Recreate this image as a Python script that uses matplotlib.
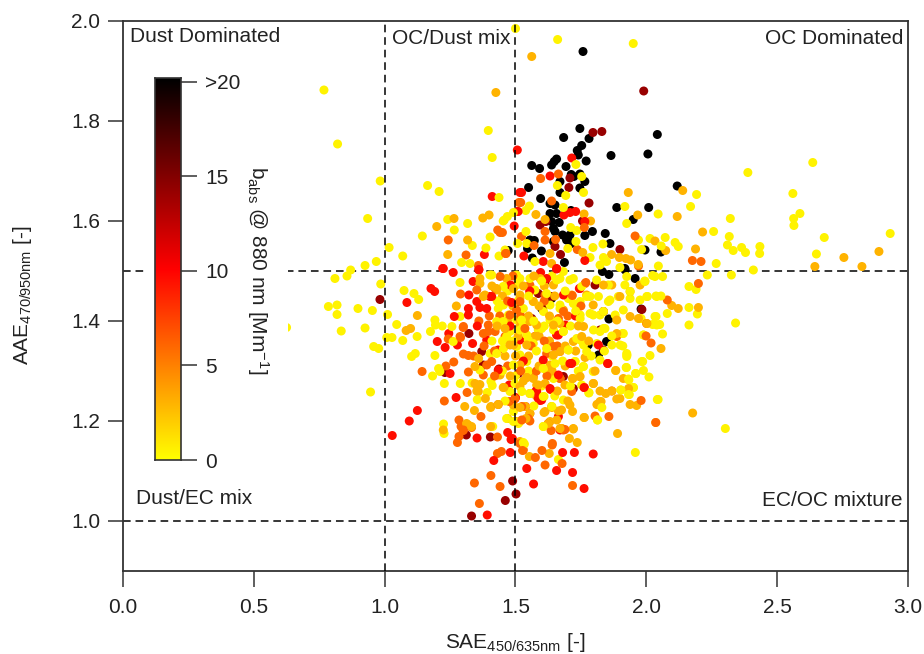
import numpy as np
import matplotlib
matplotlib.use('Agg')
import matplotlib.pyplot as plt
from matplotlib.colors import LinearSegmentedColormap, Normalize
from matplotlib.patches import Rectangle

# SAE, AAE, grouped by colour class of b_abs
black_pts = np.array([
    (1.758,1.939),(1.684,1.767),(1.781,1.765),(1.753,1.751),(2.042,1.773),(1.736,1.741),(1.74,1.732),(1.865,1.731),
    (2.006,1.734),(1.657,1.724),(1.648,1.719),(1.638,1.712),(1.77,1.72),(1.562,1.711),(1.592,1.705),(1.693,1.709),
    (1.746,1.694),(1.713,1.693),(1.723,1.689),(1.765,1.679),(1.67,1.679),(1.746,1.666),(1.55,1.667),(2.118,1.67),
    (1.67,1.657),(1.596,1.645),(1.651,1.632),(1.632,1.635),(1.887,1.627),(2.009,1.627),(1.632,1.615),(1.657,1.615),
    (1.712,1.621),(1.95,1.603),(1.638,1.599),(1.667,1.597),(1.645,1.585),(1.651,1.579),(1.794,1.579),(1.843,1.575),
    (1.68,1.572),(1.708,1.572),(1.555,1.562),(1.572,1.561),(1.645,1.559),(1.714,1.555),(1.861,1.555),(1.546,1.545),
    (1.599,1.54),(1.995,1.542),(2.056,1.538),(1.472,1.541),(1.564,1.526),(1.687,1.517),(1.918,1.505),(1.919,1.502),
    (1.957,1.485),(1.857,1.493),(1.832,1.499),(1.98,1.424),(1.857,1.404),(1.536,1.404),(1.498,1.435),(1.638,1.445),
    (1.848,1.359),(1.778,1.352),(1.817,1.332),(1.6,1.425),(1.746,1.785),(1.765,1.571),(1.695,1.562),
])
dark_pts = np.array([
    (1.99,1.86),(1.796,1.777),(1.83,1.779),(1.781,1.636),(1.594,1.592),(1.899,1.543),(1.672,1.533),(1.704,1.667),
    (1.708,1.686),(1.616,1.599),(1.651,1.549),(1.756,1.6),(0.982,1.443),(1.332,1.01),(1.461,1.041),(1.502,1.054),
    (1.489,1.08),(1.404,1.168),(1.312,1.172),(1.371,1.339),(1.322,1.375),(1.437,1.304),(1.377,1.312),(1.543,1.404),
    (1.23,1.297),(1.804,1.472),(1.562,1.405),(1.721,1.265),(1.587,1.455),(1.683,1.289),(1.836,1.342),(1.836,1.419),
    (1.511,1.295),(1.823,1.382),(1.613,1.479),(1.639,1.449),(1.604,1.425),(1.983,1.423),
])
red_pts = np.array([
    (1.507,1.742),(1.411,1.649),(1.381,1.533),(1.222,1.505),(1.36,1.503),(1.517,1.657),(1.507,1.619),(1.495,1.59),
    (1.715,1.726),(1.632,1.69),(1.523,1.657),(1.51,1.619),(1.685,1.612),(1.708,1.617),(1.73,1.619),(1.765,1.599),
    (1.606,1.519),(1.765,1.521),(1.657,1.505),(1.532,1.53),(1.224,1.505),(1.177,1.465),(1.191,1.459),(1.085,1.437),
    (1.262,1.497),(1.338,1.479),(1.322,1.452),(1.352,1.439),(1.364,1.427),(1.39,1.425),(1.32,1.425),(1.266,1.409),
    (1.32,1.412),(1.201,1.359),(1.231,1.347),(1.245,1.375),(1.278,1.352),(1.336,1.355),(1.354,1.39),(1.25,1.295),
    (1.434,1.342),(1.273,1.247),(1.125,1.221),(1.094,1.2),(1.029,1.171),(1.353,1.166),(1.47,1.177),(1.483,1.163),
    (1.48,1.137),(1.417,1.121),(1.543,1.105),(1.392,1.012),(1.529,1.319),(1.476,1.272),(1.5,1.247),(1.36,1.502),
    (1.402,1.449),(1.479,1.39),(1.797,1.134),(1.725,1.137),(1.68,1.137),(1.657,1.101),(1.718,1.097),(1.569,1.074),
    (1.762,1.065),(1.488,1.165),(1.852,1.315),(1.817,1.352),(1.747,1.465),(1.683,1.452),(1.729,1.41),(1.53,1.32),
    (1.606,1.322),(1.664,1.209),(1.581,1.259),(1.594,1.241),(1.634,1.263),(1.555,1.459),(1.619,1.485),(1.517,1.362),
    (1.657,1.372),(1.708,1.315),(1.762,1.267),(1.596,1.497),(1.657,1.504),(1.498,1.245),(1.481,1.472),(1.555,1.46),
    (1.409,1.449),(1.485,1.437),(1.39,1.362),(1.744,1.465),(1.69,1.392),(1.664,1.372),(1.578,1.26),(1.587,1.245),
    (1.434,1.302),(1.853,1.315),(1.715,1.315),(1.763,1.267),(1.664,1.292),(1.632,1.265),(1.6,1.242),(1.67,1.182),
])
orange_pts = np.array([
    (1.432,1.582),(1.45,1.577),(1.311,1.532),(1.462,1.535),(1.358,1.511),(1.513,1.637),(1.243,1.562),(1.596,1.685),
    (1.664,1.694),(1.52,1.637),(1.957,1.57),(2.176,1.521),(2.209,1.519),(1.763,1.587),(1.613,1.579),(1.523,1.569),
    (1.736,1.543),(1.613,1.562),(1.653,1.563),(1.571,1.551),(1.464,1.535),(1.441,1.577),(1.638,1.64),(1.29,1.454),
    (1.143,1.299),(1.234,1.31),(1.264,1.318),(1.32,1.298),(1.301,1.334),(1.32,1.331),(1.228,1.24),(1.315,1.257),
    (1.368,1.209),(1.284,1.202),(1.292,1.189),(1.332,1.187),(1.3,1.181),(1.278,1.157),(1.284,1.169),(1.431,1.168),
    (1.343,1.076),(1.406,1.091),(1.362,1.035),(1.441,1.069),(1.431,1.135),(1.446,1.139),(1.53,1.142),(1.517,1.155),
    (1.3,1.387),(1.29,1.367),(1.243,1.364),(1.396,1.392),(1.377,1.375),(1.422,1.379),(1.409,1.319),(1.39,1.312),
    (1.377,1.292),(1.476,1.239),(1.434,1.233),(1.504,1.422),(1.46,1.369),(1.441,1.489),(1.422,1.465),(1.857,1.209),
    (1.804,1.21),(1.98,1.241),(2.018,1.356),(2.001,1.395),(1.999,1.37),(2.08,1.442),(1.769,1.477),(1.97,1.51),
    (1.636,1.181),(1.676,1.185),(1.689,1.183),(1.613,1.112),(1.678,1.115),(1.576,1.127),(1.601,1.141),(1.64,1.152),
    (1.527,1.141),(1.718,1.071),(1.555,1.2),(1.625,1.195),(1.715,1.259),(1.619,1.335),(1.67,1.339),(1.575,1.369),
    (1.683,1.419),(1.517,1.439),(1.717,1.451),(1.555,1.472),(1.766,1.475),(1.568,1.289),(1.504,1.362),(1.67,1.285),
    (2.199,1.475),(2.036,1.197),(1.352,1.462),(1.396,1.379),(1.301,1.389),(1.288,1.369),(1.479,1.412),(1.536,1.385),
    (1.574,1.369),(1.613,1.452),(1.664,1.405),(1.976,1.405),(1.645,1.349),(1.887,1.369),(1.524,1.229),(1.539,1.229),
    (1.498,1.245),(1.555,1.215),(1.549,1.205),(1.524,1.202),(1.301,1.182),(1.868,1.26),(1.641,1.155),(1.683,1.182),
    (1.44,1.41),(1.40,1.41),(1.36,1.40),(1.38,1.35),(1.34,1.33),(1.42,1.34),(1.47,1.44),(1.52,1.41),
    (1.56,1.35),(1.61,1.36),(1.66,1.35),(1.47,1.31),(1.52,1.30),(1.42,1.29),(1.58,1.30),(1.62,1.29),
    (1.70,1.41),(1.75,1.43),(1.61,1.44),(1.49,1.49),
])
amber_pts = np.array([
    (1.425,1.857),(1.265,1.605),(1.199,1.589),(1.375,1.606),(1.399,1.612),(1.317,1.562),(1.241,1.533),(1.562,1.929),
    (2.139,1.661),(1.931,1.657),(1.967,1.612),(2.118,1.609),(2.215,1.578),(2.188,1.544),(2.755,1.527),(2.889,1.539),
    (2.824,1.509),(2.644,1.509),(1.762,1.614),(1.787,1.6),(1.578,1.613),(1.613,1.603),(2.033,1.56),(2.074,1.541),
    (1.867,1.533),(1.897,1.527),(1.922,1.525),(1.94,1.522),(1.969,1.513),(1.757,1.537),(1.632,1.535),(1.638,1.515),
    (1.274,1.43),(1.125,1.411),(1.082,1.381),(1.099,1.385),(1.306,1.229),(1.343,1.221),(1.32,1.192),(1.224,1.182),
    (1.405,1.227),(1.385,1.245),(1.405,1.189),(1.364,1.485),(1.383,1.452),(1.428,1.462),(1.352,1.272),(1.358,1.259),
    (1.345,1.309),(1.441,1.292),(1.456,1.267),(1.47,1.205),(1.466,1.362),(1.492,1.352),(1.517,1.445),(1.492,1.465),
    (1.517,1.312),(1.359,1.325),(1.492,1.232),(1.504,1.199),(2.199,1.427),(2.122,1.425),(2.097,1.431),(2.056,1.345),
    (1.89,1.175),(2.177,1.216),(1.762,1.207),(1.963,1.231),(1.938,1.233),(1.887,1.244),(1.899,1.245),(1.868,1.26),
    (1.823,1.26),(1.845,1.255),(1.797,1.275),(1.804,1.3),(1.823,1.239),(1.813,1.233),(1.721,1.185),(1.706,1.165),
    (1.736,1.157),(1.718,1.219),(1.708,1.232),(1.676,1.222),(1.638,1.229),(1.613,1.219),(1.517,1.227),(1.536,1.229),
    (1.555,1.215),(1.629,1.135),(1.553,1.129),(1.517,1.159),(1.67,1.185),(1.632,1.199),(1.747,1.289),(1.718,1.285),
    (1.689,1.272),(1.613,1.275),(1.587,1.272),(1.568,1.285),(1.543,1.287),(1.645,1.332),(1.67,1.339),(1.632,1.312),
    (1.575,1.369),(1.683,1.422),(1.715,1.452),(1.517,1.452),(1.594,1.485),(1.797,1.432),(1.938,1.459),(1.899,1.449),
    (1.887,1.375),(1.753,1.369),(1.645,1.392),(1.555,1.399),(1.517,1.389),(1.364,1.475),(1.428,1.465),(1.466,1.485),
    (1.568,1.439),(1.377,1.449),(1.549,1.405),(1.581,1.392),(1.479,1.352),(1.543,1.352),(1.46,1.385),(1.517,1.402),
    (1.645,1.472),(1.715,1.449),(1.76,1.389),(1.836,1.472),(1.868,1.472),(1.938,1.409),(1.97,1.405),(2.002,1.395),
    (1.887,1.402),(1.836,1.419),(1.67,1.395),(1.62,1.355),(1.721,1.359),(1.772,1.452),(1.976,1.472),(1.431,1.292),
    (1.453,1.267),(1.345,1.275),(1.364,1.273),(1.352,1.26),(1.434,1.233),(1.406,1.229),(1.543,1.287),(1.581,1.272),
    (1.555,1.255),(1.517,1.269),(1.54,1.205),(1.313,1.195),(1.332,1.189),(1.766,1.327),(1.883,1.301),(1.798,1.275),
    (1.912,1.285),(1.932,1.265),(2.036,1.197),(1.763,1.207),(1.811,1.233),(1.827,1.239),(1.664,1.22),(1.639,1.227),
    (1.609,1.217),(1.626,1.195),(1.658,1.202),(1.721,1.184),(1.677,1.185),(1.719,1.285),(1.744,1.289),(1.67,1.285),
    (1.41,1.47),(1.45,1.45),(1.49,1.43),(1.53,1.47),(1.57,1.49),(1.61,1.47),(1.65,1.45),(1.59,1.43),
    (1.63,1.41),(1.55,1.41),(1.47,1.40),(1.43,1.39),(1.51,1.37),(1.59,1.37),(1.63,1.36),(1.69,1.35),
    (1.74,1.39),(1.78,1.36),(1.46,1.33),(1.50,1.33),(1.55,1.33),(1.59,1.31),(1.64,1.30),(1.69,1.31),
    (1.73,1.34),(1.48,1.29),(1.53,1.28),(1.58,1.25),(1.66,1.26),(1.70,1.24),
])
yellow_pts = np.array([
    (0.625,1.387),(0.81,1.485),(0.856,1.49),(0.87,1.502),(0.985,1.474),(0.785,1.429),(0.818,1.432),(0.818,1.413),
    (0.898,1.425),(0.953,1.421),(0.834,1.38),(0.925,1.386),(0.958,1.349),(0.977,1.345),(1.011,1.413),(1.046,1.393),
    (1.008,1.367),(1.028,1.367),(1.069,1.361),(1.124,1.369),(1.112,1.455),(1.13,1.443),(1.074,1.461),(0.946,1.258),
    (1.103,1.329),(1.117,1.335),(1.192,1.331),(1.175,1.379),(1.192,1.402),(1.194,1.392),(1.22,1.39),(1.257,1.389),
    (1.183,1.29),(1.206,1.305),(1.211,1.299),(1.228,1.275),(1.289,1.275),(1.225,1.194),(1.227,1.175),(1.354,1.243),
    (1.334,1.276),(1.406,1.279),(1.411,1.271),(1.392,1.257),(1.413,1.189),(0.768,1.862),(0.82,1.754),(0.983,1.68),
    (0.935,1.605),(1.164,1.671),(1.208,1.659),(1.437,1.647),(1.411,1.727),(1.396,1.781),(1.241,1.603),(1.266,1.582),
    (1.317,1.595),(1.144,1.57),(1.017,1.547),(1.069,1.53),(0.968,1.519),(0.925,1.511),(1.403,1.568),(1.453,1.6),
    (1.469,1.609),(1.492,1.617),(1.5,1.985),(1.335,1.551),(1.387,1.546),(1.46,1.542),(1.437,1.53),(1.294,1.517),
    (1.326,1.515),(1.661,1.963),(1.95,1.955),(2.388,1.697),(2.636,1.717),(2.192,1.653),(2.56,1.655),(2.169,1.629),
    (1.918,1.629),(2.045,1.614),(2.587,1.615),(2.563,1.605),(2.564,1.591),(2.321,1.605),(1.925,1.595),(2.257,1.579),
    (2.317,1.569),(2.932,1.575),(2.68,1.567),(2.31,1.552),(2.364,1.547),(2.332,1.541),(2.379,1.537),(2.434,1.549),
    (2.433,1.535),(2.65,1.534),(2.267,1.515),(2.409,1.502),(2.072,1.567),(2.014,1.565),(1.97,1.562),(2.11,1.557),
    (2.122,1.549),(2.057,1.55),(1.982,1.543),(1.796,1.547),(1.834,1.554),(1.731,1.713),(1.76,1.657),(1.692,1.651),
    (1.66,1.671),(1.553,1.63),(1.539,1.621),(1.457,1.602),(1.54,1.579),(1.711,1.587),(1.734,1.581),(1.731,1.559),
    (1.7,1.545),(1.785,1.527),(1.836,1.527),(1.823,1.512),(1.899,1.507),(1.848,1.519),(2.046,1.51),(1.508,1.555),
    (1.543,1.555),(1.683,1.627),(1.753,1.689),(1.574,1.519),(1.402,1.492),(1.454,1.432),(1.428,1.399),(1.403,1.335),
    (1.364,1.302),(1.288,1.409),(1.262,1.359),(1.473,1.412),(1.454,1.345),(1.498,1.275),(1.479,1.259),(1.492,1.219),
    (1.517,1.199),(1.523,1.402),(1.479,1.379),(1.504,1.492),(1.288,1.477),(2.341,1.396),(2.325,1.492),(2.233,1.492),
    (2.163,1.469),(2.19,1.463),(2.163,1.427),(2.195,1.414),(2.163,1.392),(2.08,1.415),(2.062,1.489),(2.024,1.491),
    (1.994,1.48),(2.004,1.449),(2.037,1.45),(2.056,1.45),(2.037,1.409),(2.051,1.393),(2.024,1.393),(2.062,1.374),
    (1.989,1.372),(1.98,1.405),(1.91,1.375),(1.91,1.35),(1.926,1.332),(2.014,1.331),(1.986,1.319),(1.924,1.307),
    (1.883,1.301),(1.959,1.295),(1.989,1.301),(2.01,1.288),(1.933,1.282),(1.95,1.267),(1.935,1.253),(1.903,1.262),
    (2.045,1.243),(2.302,1.185),(1.958,1.137),(1.814,1.202),(1.78,1.256),(1.683,1.242),(1.606,1.249),(1.606,1.189),
    (1.664,1.123),(1.534,1.154),(1.823,1.379),(1.772,1.339),(1.759,1.309),(1.727,1.319),(1.797,1.299),(1.747,1.362),
    (1.702,1.342),(1.868,1.37),(1.842,1.385),(1.772,1.449),(1.81,1.482),(1.861,1.442),(1.912,1.422),(1.938,1.445),
    (1.976,1.442),(1.918,1.472),(1.925,1.489),(1.855,1.472),(1.708,1.482),(1.67,1.485),(1.555,1.485),(1.619,1.455),
    (1.504,1.472),(1.568,1.439),(1.632,1.402),(1.683,1.379),(1.619,1.345),(1.549,1.362),(1.587,1.382),(1.504,1.402),
    (1.517,1.332),(1.492,1.312),(1.543,1.319),(1.606,1.305),(1.645,1.285),(1.524,1.259),(1.555,1.255),(1.492,1.199),
    (1.511,1.195),(1.721,1.435),(1.67,1.425),(1.797,1.412),(1.747,1.405),(1.836,1.419),(1.409,1.492),(1.517,1.485),
    (1.453,1.469),(1.574,1.462),(1.434,1.425),(1.53,1.425),(1.453,1.399),(1.517,1.382),(1.543,1.372),(1.466,1.369),
    (1.568,1.355),(1.504,1.349),(1.428,1.335),(1.683,1.499),(1.658,1.482),(1.721,1.485),(1.753,1.469),(1.785,1.449),
    (1.817,1.449),(1.855,1.439),(1.893,1.449),(1.938,1.459),(1.995,1.479),(2.033,1.489),(2.002,1.449),(2.04,1.449),
    (1.702,1.445),(1.67,1.432),(1.632,1.432),(1.607,1.419),(1.747,1.439),(1.747,1.412),(1.785,1.415),(1.823,1.412),
    (1.881,1.412),(1.912,1.375),(1.9,1.352),(1.868,1.352),(1.811,1.355),(1.76,1.352),(1.734,1.365),(1.683,1.379),
    (1.645,1.382),(1.6,1.385),(1.702,1.342),(1.836,1.385),(1.798,1.382),(2.033,1.409),(1.989,1.372),(2.04,1.392),
    (1.925,1.335),(1.53,1.157),(1.466,1.205),(1.728,1.319),(1.76,1.309),(1.753,1.272),(1.781,1.257),(1.83,1.227),
    (1.813,1.202),(1.902,1.262),(1.932,1.253),(1.951,1.267),(1.96,1.295),(1.983,1.319),(1.923,1.307),(1.932,1.284),
    (2.042,1.243),(1.925,1.329),(1.609,1.249),(1.639,1.229),(1.607,1.189),(1.619,1.302),(1.651,1.315),(1.823,1.322),
    (1.43,1.44),(1.47,1.46),(1.51,1.44),(1.55,1.45),(1.60,1.48),(1.64,1.49),(1.69,1.46),(1.73,1.42),
    (1.66,1.40),(1.71,1.39),(1.61,1.39),(1.57,1.40),(1.53,1.39),(1.49,1.36),(1.45,1.36),(1.41,1.36),
    (1.58,1.34),(1.64,1.33),(1.68,1.32),(1.74,1.30),(1.79,1.33),(1.84,1.34),(1.45,1.30),(1.50,1.29),
    (1.55,1.30),(1.60,1.27),(1.65,1.25),(1.71,1.27),(1.57,1.23),(1.46,1.24),
])
# b_abs value given to each colour class
class_values = [21, 14, 9.5, 6, 3, 0.5]
classes = [black_pts, dark_pts, red_pts, orange_pts, amber_pts, yellow_pts]

cbar_ticks = [0, 5, 10, 15, 20]
cbar_labels = ['0', '5', '10', '15', '>20']
x_ticks = [0.0, 0.5, 1.0, 1.5, 2.0, 2.5, 3.0]
y_ticks = [1.0, 1.2, 1.4, 1.6, 1.8, 2.0]

plt.rcParams['font.family'] = ['Liberation Sans', 'DejaVu Sans']
plt.rcParams['mathtext.fontset'] = 'custom'
plt.rcParams['mathtext.rm'] = 'Liberation Sans'
plt.rcParams['mathtext.default'] = 'rm'

W, H = 924, 654
cmap = LinearSegmentedColormap.from_list('babs', [(0, '#ffff00'), (0.5, '#ff0000'), (1, '#000000')])
norm = Normalize(0, 20)
edge = '#333333'
fs = 15

fig = plt.figure(figsize=(W/100, H/100), dpi=100)
ax = fig.add_axes([123/W, 1-571/H, (908-123)/W, (571-21)/H])

# black and dark points sit low in the stack, the rest are interleaved
for pts, val in zip(classes[:2], class_values[:2]):
    ax.scatter(pts[:, 0], pts[:, 1], s=42, c=[val]*len(pts), cmap=cmap, norm=norm, linewidths=0, zorder=3)

mix = np.vstack(classes[2:])
mix_b = np.concatenate([[v]*len(p) for p, v in zip(classes[2:], class_values[2:])])
order = np.argsort((mix[:, 0]*1000 + mix[:, 1]*3000) % 13)
ax.scatter(mix[order, 0], mix[order, 1], s=42, c=mix_b[order], cmap=cmap, norm=norm, linewidths=0, zorder=3)

for v in [1.0, 1.5]:
    ax.axvline(v, color='k', lw=1.1, dashes=(5, 3.2), zorder=4)
    ax.axhline(v, color='k', lw=1.1, dashes=(5, 3.2), zorder=2)

ax.set_xlim(0, 3)
ax.set_ylim(0.9, 2.0)
ax.set_xticks(x_ticks)
ax.set_xticklabels([f'{t:.1f}' for t in x_ticks])
ax.set_yticks(y_ticks)
ax.set_yticklabels([f'{t:.1f}' for t in y_ticks])
ax.tick_params(axis='x', direction='out', length=11.5, width=1.1, color=edge, labelsize=fs, pad=8, labelcolor='#222222')
ax.tick_params(axis='y', direction='out', length=10.8, width=1.1, color=edge, labelsize=fs, pad=5.5, labelcolor='#222222')
for s in ax.spines.values():
    s.set_color(edge)
    s.set_linewidth(1.3)

ax.set_xlabel(r'SAE$_{450/635nm}$ [-]', fontsize=fs, color='#222222')
ax.xaxis.set_label_coords((515-123)/(908-123), -(643-571)/(571-21), transform=ax.transAxes)
ax.xaxis.label.set_va('center')
ax.set_ylabel(r'AAE$_{470/950nm}$ [-]', fontsize=fs, color='#222222')
ax.yaxis.set_label_coords((22-123)/(908-123), (571-295)/(571-21), transform=ax.transAxes)
ax.yaxis.label.set_va('center')

def put(px, py, s, ha='left'):
    ax.text((px-123)/(908-123), (571-py)/(571-21), s, transform=ax.transAxes, ha=ha, va='center',
            fontsize=fs, color='#222222', zorder=6)

put(130, 37, 'Dust Dominated')
put(392, 38, 'OC/Dust mix')
put(903, 38, 'OC Dominated', ha='right')
put(136, 499, 'Dust/EC mix')
put(903, 501, 'EC/OC mixture', ha='right')

# white block behind the colour scale hides points and the dashed line
ax.add_patch(Rectangle(((148-123)/785, (571-480)/550), 140/785, 420/550, transform=ax.transAxes,
                       fc='white', ec='none', zorder=5))

cax = fig.add_axes([155/W, 1-460/H, 26/W, 382/H], zorder=5)
grad = np.linspace(0, 20, 256).reshape(-1, 1)
cax.imshow(grad, origin='lower', aspect='auto', cmap=cmap, norm=norm, extent=[0, 1, 0, 20.2])
cax.set_xticks([])
cax.yaxis.tick_right()
cax.set_yticks(cbar_ticks)
cax.set_yticklabels(cbar_labels)
cax.tick_params(axis='y', length=11.5, width=1.1, color=edge, labelsize=fs, pad=6, labelcolor='#222222')
for s in cax.spines.values():
    s.set_color(edge)
    s.set_linewidth(1.2)

fig.text(258/W, 1-270/H, r'b$_{abs}$ @ 880 nm [Mm$^{-1}$]', rotation=-90, ha='center', va='center',
         fontsize=fs, color='#222222', zorder=7)

fig.savefig('out.png', dpi=100)
